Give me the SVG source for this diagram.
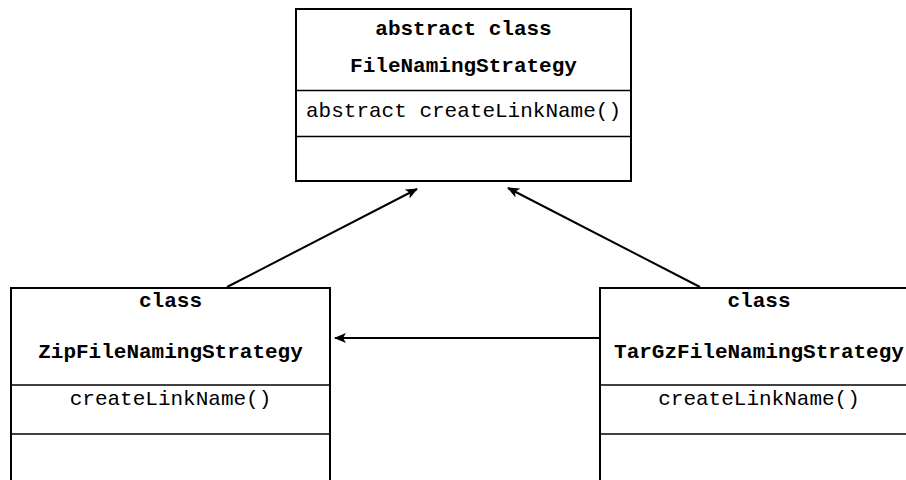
<svg xmlns="http://www.w3.org/2000/svg" width="906" height="480" viewBox="0 0 906 480">
<style>
.box{fill:#fff;stroke:#000;stroke-width:2}
.div{stroke:#000;stroke-width:1.5}
.t{font-family:"Liberation Mono","Courier New",monospace;font-size:21px;fill:#000;text-anchor:middle}
.b{font-weight:bold}
.c{stroke:#000;stroke-width:2;fill:none;marker-end:url(#arr)}
</style>
<defs>
<marker id="arr" viewBox="0 0 12 10" refX="11" refY="5" markerWidth="12" markerHeight="10" markerUnits="userSpaceOnUse" orient="auto">
<path d="M0,0 L12,5 L0,10 L3,5 z" fill="#000"/>
</marker>
</defs>
<rect width="906" height="480" fill="#fff"/>
<g id="connectors">
<line class="c" x1="227" y1="287" x2="417" y2="189"/>
<line class="c" x1="700" y1="287" x2="508" y2="188"/>
<line class="c" x1="600" y1="338" x2="335" y2="338"/>
</g>
<g id="FileNamingStrategy">
<rect class="box" x="296" y="9" width="335" height="172"/>
<line class="div" x1="296" y1="90.5" x2="631" y2="90.5"/>
<line class="div" x1="296" y1="136.5" x2="631" y2="136.5"/>
<text class="t b" x="463.5" y="35">abstract class</text>
<text class="t b" x="463.5" y="72">FileNamingStrategy</text>
<text class="t" x="463.5" y="117">abstract createLinkName()</text>
</g>
<g id="ZipFileNamingStrategy">
<rect class="box" x="11" y="288" width="319" height="200"/>
<line class="div" x1="11" y1="385" x2="330" y2="385"/>
<line class="div" x1="11" y1="434" x2="330" y2="434"/>
<text class="t b" x="170.5" y="307">class</text>
<text class="t b" x="170.5" y="358">ZipFileNamingStrategy</text>
<text class="t" x="170.5" y="405">createLinkName()</text>
</g>
<g id="TarGzFileNamingStrategy">
<rect class="box" x="600" y="288" width="319" height="200"/>
<line class="div" x1="600" y1="385" x2="919" y2="385"/>
<line class="div" x1="600" y1="434" x2="919" y2="434"/>
<text class="t b" x="759" y="307">class</text>
<text class="t b" x="759" y="358">TarGzFileNamingStrategy</text>
<text class="t" x="759" y="405">createLinkName()</text>
</g>
</svg>
